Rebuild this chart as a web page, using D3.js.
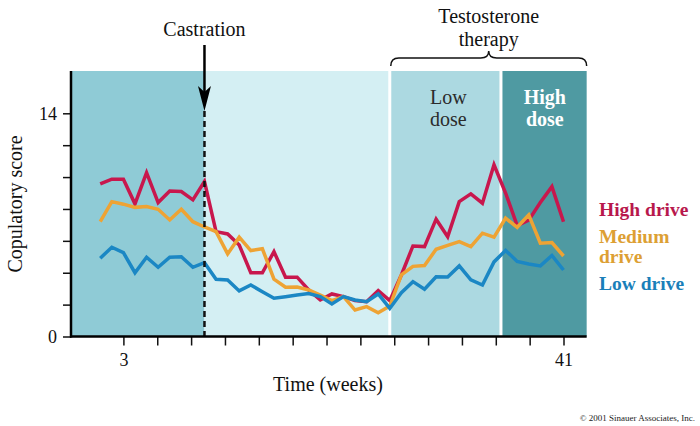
<!DOCTYPE html>
<html>
<head>
<meta charset="utf-8">
<script src="https://cdn.jsdelivr.net/npm/d3@7"></script>
<style>
  html, body { margin: 0; padding: 0; background: #fff; }
  svg { display: block; }
  text { font-family: "Liberation Serif", "DejaVu Serif", serif; }
</style>
</head>
<body>
<svg id="chart" width="700" height="426"></svg>
<script>
// ---------- data ----------
const weeks = [1,2,3,4,5,6,7,8,9,10,11,12,13,14,15,16,17,18,19,20,21,22,23,24,25,26,27,28,29,30,31,32,33,34,35,36,37,38,39,40,41];
const highDrive = [9.57,9.87,9.87,8.32,10.28,8.4,9.13,9.09,8.57,9.72,6.58,6.43,5.74,4.0,4.0,5.32,3.72,3.72,2.92,2.29,2.67,2.5,2.25,2.18,2.88,2.25,3.86,5.68,5.64,7.36,6.26,8.46,8.95,8.36,10.77,9.0,6.95,7.3,8.4,9.4,7.2];
const mediumDrive = [7.2,8.46,8.3,8.1,8.15,7.98,7.31,7.98,7.2,6.87,6.58,5.18,6.23,5.39,5.5,3.6,3.09,3.1,2.92,2.6,2.25,2.5,1.66,1.87,1.49,1.91,3.86,4.4,4.45,5.47,5.72,5.95,5.64,6.48,6.23,7.42,6.85,7.63,5.85,5.89,5.05];
const lowDrive = [4.91,5.6,5.26,4.0,4.97,4.34,4.97,5.0,4.34,4.63,3.59,3.55,2.86,3.23,2.81,2.4,2.5,2.6,2.7,2.5,2.04,2.5,2.29,2.18,2.67,1.76,2.75,3.44,2.96,3.75,3.73,4.43,3.55,3.23,4.68,5.4,4.71,4.55,4.43,5.08,4.17];
const seriesNames = ["High drive", "Medium drive", "Low drive"];
const yTickValues = [0, 2, 4, 6, 8, 10, 12, 14];
const yTickLabels = ["0", "", "", "", "", "", "", "14"];
const xTickLabels = ["3", "", "", "", "", "", "", "", "", "", "", "", "", "41"];
const phaseNames = ["Pre-castration", "Castrated", "Low dose", "High dose"];
const phaseStarts = [-1.52, 10, 26, 35.6];
const phaseEnd = 43.0;
const castrationWeek = 10;

// ---------- layout ----------
const svg = d3.select("#chart");
const plotTop = 71, plotBottom = 336.5, plotLeft = 71;
const x = d3.scaleLinear().domain([3, 41]).range([123.4, 563.5]);
const y = d3.scaleLinear().domain([0, 14]).range([336.5, 113.3]);
const plotRight = x(phaseEnd);

const phaseColors = ["#8fcbd6", "#d4eff3", "#acd9e1", "#4f9aa2"];
const lineColors = ["#c8174d", "#eea334", "#1b87c4"];
const legendColors = ["#b8184c", "#dda033", "#1a7fb9"];

// phase regions
const phases = phaseStarts.map((s, i) => ({ name: phaseNames[i], start: s, end: i < phaseStarts.length - 1 ? phaseStarts[i + 1] : phaseEnd }));
svg.append("g").selectAll("rect").data(phases).join("rect")
  .attr("x", d => x(d.start))
  .attr("y", plotTop)
  .attr("width", d => x(d.end) - x(d.start))
  .attr("height", plotBottom - plotTop)
  .attr("fill", (d, i) => phaseColors[i]);

// white separators between therapy phases
svg.append("g").selectAll("line").data(phaseStarts.slice(2)).join("line")
  .attr("x1", d => x(d)).attr("x2", d => x(d))
  .attr("y1", plotTop).attr("y2", plotBottom)
  .attr("stroke", "#fff").attr("stroke-width", 3);

// phase labels
const lowMid = (x(phaseStarts[2]) + x(phaseStarts[3])) / 2 + 3;
const highMid = (x(phaseStarts[3]) + plotRight) / 2 + 1;
const lowLab = svg.append("text").attr("text-anchor", "middle").attr("font-size", 20).attr("fill", "#2b2b2b");
lowLab.append("tspan").attr("x", lowMid).attr("y", 104).text("Low");
lowLab.append("tspan").attr("x", lowMid).attr("y", 126).text("dose");
const highLab = svg.append("text").attr("text-anchor", "middle").attr("font-size", 20).attr("font-weight", "bold").attr("fill", "#fff");
highLab.append("tspan").attr("x", highMid).attr("y", 104).text("High");
highLab.append("tspan").attr("x", highMid).attr("y", 126).text("dose");

// lines
const allSeries = [highDrive, mediumDrive, lowDrive];
const line = d3.line().x((d, i) => x(weeks[i])).y(d => y(d));
svg.append("g").selectAll("path").data(allSeries).join("path")
  .attr("d", d => line(d))
  .attr("fill", "none")
  .attr("stroke", (d, i) => lineColors[i])
  .attr("stroke-width", 3.5)
  .attr("stroke-linejoin", "miter")
  .attr("stroke-miterlimit", 4);

// castration dashed line and arrow
const cx = x(castrationWeek);
svg.append("line")
  .attr("x1", cx).attr("x2", cx).attr("y1", 111).attr("y2", plotBottom)
  .attr("stroke", "#111").attr("stroke-width", 2.5).attr("stroke-dasharray", "6,4");
svg.append("line")
  .attr("x1", cx).attr("x2", cx).attr("y1", 45).attr("y2", 95)
  .attr("stroke", "#000").attr("stroke-width", 2.5);
svg.append("path")
  .attr("d", `M${cx - 6.5},86 L${cx},92 L${cx + 6.5},86 L${cx},111 Z`)
  .attr("fill", "#000");
svg.append("text").attr("x", cx).attr("y", 36).attr("text-anchor", "middle")
  .attr("font-size", 20).attr("fill", "#111").text("Castration");

// testosterone therapy brace
const bx0 = x(phaseStarts[2]) + 1, bx1 = plotRight, bmid = (bx0 + bx1) / 2;
svg.append("path")
  .attr("d", `M${bx0},66 Q${bx0},58 ${bx0 + 8},58 L${bmid - 8},58 Q${bmid},58 ${bmid},51 Q${bmid},58 ${bmid + 8},58 L${bx1 - 8},58 Q${bx1},58 ${bx1},66`)
  .attr("fill", "none").attr("stroke", "#111").attr("stroke-width", 1.5);
const tt = svg.append("text").attr("text-anchor", "middle").attr("font-size", 20).attr("fill", "#111");
tt.append("tspan").attr("x", bmid).attr("y", 23).text("Testosterone");
tt.append("tspan").attr("x", bmid).attr("y", 46).text("therapy");

// axes
const yAxis = d3.axisLeft(y).tickValues(yTickValues).tickSize(8).tickPadding(6)
  .tickFormat((d, i) => yTickLabels[i]);
const gy = svg.append("g").attr("transform", `translate(${plotLeft},0)`).call(yAxis);
gy.select(".domain").remove();
gy.selectAll(".tick line").attr("stroke", "#111").attr("stroke-width", 1.5);
gy.selectAll(".tick text").attr("font-size", 18).attr("fill", "#111")
  .attr("font-family", "'Liberation Serif', serif");

const xTickValues = xTickLabels.map((d, i) => 3 + i * (41 - 3) / (xTickLabels.length - 1));
const xAxis = d3.axisBottom(x).tickValues(xTickValues).tickSize(9).tickPadding(8)
  .tickFormat((d, i) => xTickLabels[i]);
const gx = svg.append("g").attr("transform", `translate(0,${plotBottom})`).call(xAxis);
gx.select(".domain").remove();
gx.selectAll(".tick line").attr("stroke", "#111").attr("stroke-width", 1.5);
gx.selectAll(".tick text").attr("font-size", 18).attr("fill", "#111")
  .attr("font-family", "'Liberation Serif', serif");

// axis lines
svg.append("line").attr("x1", plotLeft).attr("x2", plotLeft).attr("y1", plotTop).attr("y2", plotBottom + 1)
  .attr("stroke", "#000").attr("stroke-width", 2.5);
svg.append("line").attr("x1", plotLeft - 1).attr("x2", plotRight).attr("y1", plotBottom).attr("y2", plotBottom)
  .attr("stroke", "#000").attr("stroke-width", 2.5);

// axis titles
svg.append("text").attr("x", 328).attr("y", 391).attr("text-anchor", "middle")
  .attr("font-size", 20).attr("fill", "#111").text("Time (weeks)");
svg.append("text").attr("transform", "translate(22,204) rotate(-90)").attr("text-anchor", "middle")
  .attr("font-size", 20).attr("fill", "#111").text("Copulatory score");

// legend
const legendLines = [["High drive"], ["Medium", "drive"], ["Low drive"]];
const legendY = [[216], [243, 263], [290]];
legendLines.forEach((lines, i) => {
  const t = svg.append("text").attr("font-size", 19.5).attr("font-weight", "bold").attr("fill", legendColors[i]);
  lines.forEach((s, j) => t.append("tspan").attr("x", 599).attr("y", legendY[i][j]).text(s));
});

// credit
svg.append("text").attr("x", 695).attr("y", 421).attr("text-anchor", "end")
  .attr("font-size", 9).attr("fill", "#222").text("© 2001 Sinauer Associates, Inc.");
</script>
</body>
</html>
